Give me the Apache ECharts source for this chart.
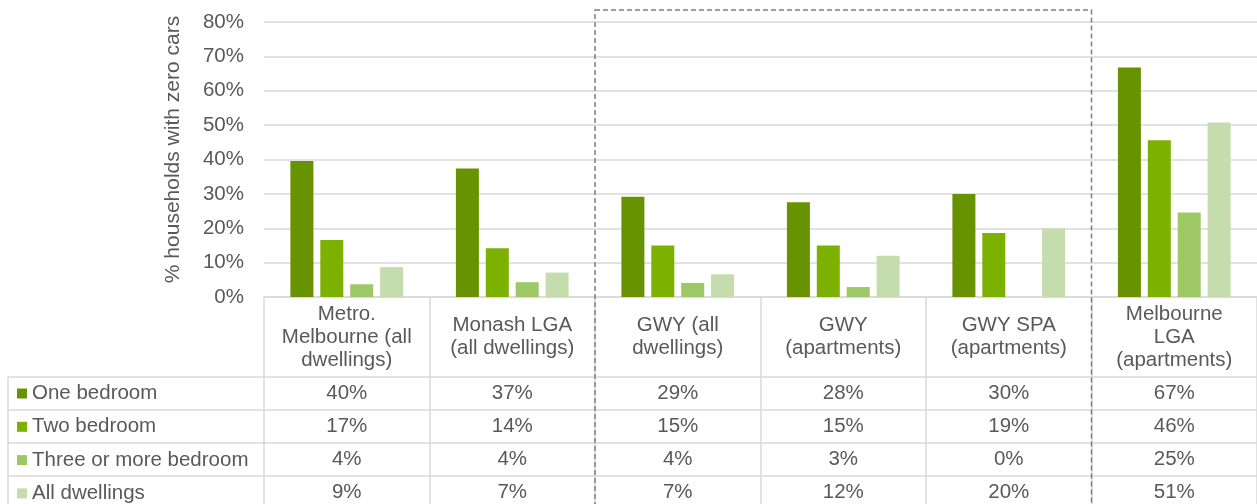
<!DOCTYPE html>
<html style="height: 100%">
    <head>
        <meta charset="utf-8">
    </head>
    <body style="height: 100%; margin: 0">
        <div id="container" style="height: 504px; width: 1257px;"></div>
        <script type="text/javascript" src="https://cdn.jsdelivr.net/npm/echarts@6.0.0/dist/echarts.min.js"></script>
        <script type="text/javascript">
var dom = document.getElementById("container");
var myChart = echarts.init(dom);

// data (table shows the rounded values)
const areas = ['Metro.\nMelbourne (all\ndwellings)', 'Monash LGA\n(all dwellings)', 'GWY (all\ndwellings)', 'GWY\n(apartments)', 'GWY SPA\n(apartments)', 'Melbourne\nLGA\n(apartments)'];
const oneBedroom = [39.6, 37.4, 29.2, 27.6, 30.0, 66.8];
const twoBedroom = [16.6, 14.2, 15.0, 15.0, 18.6, 45.6];
const threePlusBedroom = [3.7, 4.3, 4.1, 2.9, 0, 24.6];
const allDwellings = [8.7, 7.1, 6.6, 12.0, 19.9, 50.8];
const seriesNames = ['One bedroom', 'Two bedroom', 'Three or more bedroom', 'All dwellings'];
const yMax = 80;
const yStep = 10;

const values = [oneBedroom, twoBedroom, threePlusBedroom, allDwellings];
const colors = ['#679300', '#7cb100', '#9ec766', '#c5dcad'];
const textColor = '#595959';
const lineColor = '#d9d9d9';
const font = 'Liberation Sans';
const fontSize = 20.5;

const W = 1257, H = 504;
const gridLeft = 264, gridTop = 22, gridBottom = 207;
const axisY = H - gridBottom;
const headerH = 80, rowH = 33;
const catW = (W - gridLeft) / areas.length;

// one extra x axis per table row, only used for its labels
const tableAxes = values.map(function (vals, i) {
    return {
        type: 'category',
        data: areas,
        position: 'bottom',
        offset: headerH + i * rowH,
        axisLine: { show: false },
        axisTick: { show: false },
        splitLine: { show: false },
        axisLabel: {
            interval: 0,
            margin: rowH / 2,
            verticalAlign: 'middle',
            fontFamily: font,
            fontSize: fontSize,
            color: textColor,
            formatter: function (v, idx) {
                return Math.round(vals[idx]) + '%';
            }
        }
    };
});

const rowLines = [];
for (let i = 0; i < values.length; i++) {
    const y = axisY + headerH + i * rowH;
    rowLines.push({
        type: 'line',
        shape: { x1: 8, y1: y, x2: W, y2: y },
        style: { stroke: lineColor, lineWidth: 1.5 },
        silent: true
    });
}
rowLines.push({
    type: 'line',
    shape: { x1: 8, y1: axisY + headerH, x2: 8, y2: H },
    style: { stroke: lineColor, lineWidth: 1.5 },
    silent: true
});

var option = {
    animation: false,
    textStyle: { fontFamily: font },
    grid: {
        left: gridLeft,
        right: 0,
        top: gridTop,
        bottom: gridBottom,
        containLabel: false,
        outerBoundsMode: 'none'
    },
    legend: {
        orient: 'vertical',
        left: 17,
        top: axisY + headerH + 6,
        height: 200,
        padding: 0,
        icon: 'rect',
        itemWidth: 10,
        itemHeight: 10,
        itemGap: 12.3,
        selectedMode: false,
        data: seriesNames,
        textStyle: { fontFamily: font, fontSize: fontSize, color: textColor, lineHeight: 20 }
    },
    xAxis: [{
        type: 'category',
        data: areas,
        axisLine: { lineStyle: { color: lineColor, width: 1.5 } },
        axisTick: { show: true, length: 210, lineStyle: { color: lineColor, width: 1.5 } },
        axisLabel: {
            interval: 0,
            margin: headerH / 2,
            verticalAlign: 'middle',
            lineHeight: 23,
            fontFamily: font,
            fontSize: fontSize,
            color: textColor
        }
    }].concat(tableAxes),
    yAxis: {
        type: 'value',
        min: 0,
        max: yMax,
        interval: yStep,
        name: '% households with zero cars',
        nameLocation: 'middle',
        nameGap: 80,
        nameTextStyle: { fontFamily: font, fontSize: 21, color: textColor, padding: [0, 0, 0, 20] },
        axisLine: { show: false },
        axisTick: { show: false },
        splitLine: { lineStyle: { color: lineColor, width: 1.5 } },
        axisLabel: {
            margin: 20,
            fontFamily: font,
            fontSize: fontSize,
            color: textColor,
            formatter: '{value}%'
        }
    },
    series: values.map(function (vals, i) {
        return {
            name: seriesNames[i],
            type: 'bar',
            xAxisIndex: 0,
            barWidth: 23,
            barGap: '30%',
            itemStyle: { color: colors[i] },
            data: vals
        };
    }),
    graphic: {
        elements: rowLines.concat([{
            type: 'rect',
            shape: { x: gridLeft + 2 * catW, y: 10, width: 3 * catW, height: H },
            style: { fill: 'none', stroke: '#7f7f7f', lineWidth: 1.5, lineDash: [5, 3] },
            silent: true,
            z: 100
        }])
    }
};

myChart.setOption(option);
        </script>
    </body>
</html>
